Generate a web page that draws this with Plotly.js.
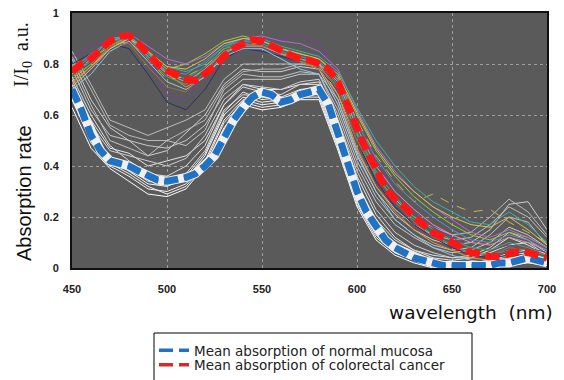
<!DOCTYPE html>
<html>
<head>
<meta charset="utf-8">
<script src="https://cdn.plot.ly/plotly-3.0.1.min.js"></script>
<style>html,body{margin:0;padding:0;background:#fff;}#chart{width:564px;height:380px;}</style>
</head>
<body>
<div id="chart"></div>
<script>
// Mean spectra (5 nm step)
const wlMean = [450,455,460,465,470,475,480,485,490,495,500,505,510,515,520,525,530,535,540,545,550,555,560,565,570,575,580,585,590,595,600,605,610,615,620,625,630,635,640,645,650,655,660,665,670,675,680,685,690,695,700];
const meanNormal = [0.70,0.62,0.52,0.46,0.42,0.41,0.40,0.38,0.36,0.345,0.34,0.345,0.355,0.37,0.40,0.44,0.51,0.58,0.63,0.67,0.69,0.68,0.65,0.66,0.68,0.69,0.70,0.64,0.52,0.41,0.30,0.22,0.16,0.11,0.08,0.06,0.04,0.03,0.02,0.01,0.01,0.01,0.01,0.01,0.01,0.02,0.02,0.03,0.04,0.03,0.02];
const meanCancer = [0.77,0.80,0.82,0.86,0.89,0.91,0.91,0.88,0.84,0.80,0.775,0.76,0.74,0.735,0.76,0.79,0.83,0.86,0.88,0.895,0.89,0.87,0.85,0.835,0.82,0.815,0.80,0.78,0.73,0.64,0.54,0.46,0.39,0.31,0.27,0.24,0.20,0.17,0.14,0.12,0.10,0.08,0.06,0.055,0.045,0.045,0.055,0.065,0.06,0.05,0.04];

// Individual spectra (10 nm step)
const wlSample = [450,460,470,480,490,500,510,520,530,540,550,560,570,580,590,600,610,620,630,640,650,660,670,680,690,700];
const normal1 = [0.66,0.50,0.40,0.36,0.31,0.30,0.33,0.42,0.58,0.66,0.64,0.65,0.68,0.68,0.48,0.26,0.13,0.06,0.03,0.01,0.00,0.00,0.01,0.02,0.03,0.01];
const normal2 = [0.72,0.55,0.43,0.39,0.34,0.33,0.37,0.46,0.62,0.68,0.67,0.66,0.69,0.70,0.53,0.31,0.17,0.09,0.05,0.03,0.02,0.02,0.03,0.05,0.06,0.03];
const normal3 = [0.63,0.47,0.39,0.34,0.29,0.28,0.31,0.40,0.55,0.64,0.62,0.63,0.66,0.66,0.46,0.24,0.11,0.05,0.02,0.00,0.00,0.00,0.00,0.01,0.02,0.01];
const normal4 = [0.78,0.62,0.52,0.50,0.48,0.47,0.50,0.56,0.68,0.74,0.74,0.74,0.76,0.76,0.60,0.40,0.26,0.17,0.12,0.08,0.06,0.07,0.10,0.16,0.13,0.08];
const normal5 = [0.85,0.72,0.58,0.55,0.52,0.55,0.58,0.62,0.74,0.80,0.80,0.80,0.80,0.79,0.66,0.46,0.32,0.23,0.17,0.13,0.11,0.12,0.17,0.24,0.20,0.12];
const normal6 = [0.70,0.58,0.47,0.45,0.40,0.42,0.44,0.50,0.64,0.72,0.70,0.70,0.72,0.73,0.57,0.36,0.21,0.12,0.07,0.04,0.03,0.04,0.07,0.12,0.09,0.05];
const normal7 = [0.82,0.66,0.55,0.50,0.44,0.46,0.53,0.60,0.72,0.78,0.77,0.77,0.79,0.78,0.64,0.44,0.30,0.21,0.15,0.11,0.09,0.10,0.15,0.25,0.26,0.15];
const normal8 = [0.68,0.52,0.42,0.38,0.33,0.32,0.35,0.44,0.60,0.67,0.65,0.66,0.69,0.69,0.50,0.28,0.14,0.07,0.04,0.02,0.01,0.01,0.02,0.04,0.04,0.02];
const normal9 = [0.75,0.60,0.48,0.42,0.37,0.36,0.40,0.48,0.64,0.71,0.69,0.68,0.72,0.72,0.55,0.33,0.19,0.11,0.07,0.05,0.04,0.04,0.06,0.09,0.10,0.05];
const normal10 = [0.80,0.64,0.50,0.47,0.44,0.50,0.48,0.54,0.70,0.76,0.75,0.75,0.77,0.76,0.62,0.42,0.28,0.19,0.13,0.09,0.07,0.08,0.13,0.20,0.18,0.09];
const normal11 = [0.67,0.49,0.41,0.37,0.32,0.29,0.32,0.41,0.57,0.65,0.63,0.64,0.67,0.67,0.47,0.25,0.12,0.06,0.03,0.01,0.01,0.01,0.01,0.02,0.03,0.01];
const normal12 = [0.74,0.56,0.46,0.44,0.42,0.40,0.43,0.52,0.66,0.72,0.71,0.70,0.73,0.74,0.58,0.38,0.23,0.14,0.09,0.06,0.04,0.05,0.08,0.14,0.11,0.06];
const normal13 = [0.69,0.51,0.42,0.40,0.36,0.34,0.36,0.45,0.61,0.69,0.66,0.67,0.70,0.71,0.52,0.30,0.16,0.08,0.04,0.02,0.01,0.02,0.03,0.06,0.07,0.03];
const normal14 = [0.83,0.70,0.56,0.52,0.50,0.50,0.54,0.58,0.71,0.77,0.78,0.78,0.80,0.80,0.68,0.50,0.36,0.27,0.20,0.16,0.13,0.14,0.20,0.27,0.22,0.13];

const cancer1 = [0.80,0.84,0.88,0.86,0.76,0.65,0.62,0.70,0.82,0.86,0.85,0.83,0.81,0.78,0.70,0.50,0.34,0.24,0.17,0.12,0.08,0.05,0.04,0.05,0.05,0.03];
const cancer2 = [0.83,0.87,0.90,0.89,0.81,0.68,0.66,0.76,0.85,0.88,0.90,0.90,0.91,0.88,0.76,0.58,0.42,0.30,0.22,0.16,0.12,0.08,0.07,0.09,0.08,0.06];
const cancer3 = [0.74,0.80,0.89,0.91,0.84,0.78,0.80,0.84,0.89,0.91,0.89,0.86,0.84,0.82,0.75,0.60,0.46,0.36,0.28,0.22,0.17,0.13,0.11,0.14,0.12,0.08];
const cancer4 = [0.76,0.81,0.88,0.90,0.84,0.77,0.74,0.79,0.86,0.89,0.88,0.85,0.82,0.80,0.72,0.52,0.37,0.26,0.19,0.13,0.09,0.06,0.05,0.07,0.06,0.04];
const cancer5 = [0.72,0.79,0.87,0.91,0.85,0.76,0.71,0.75,0.84,0.88,0.87,0.84,0.81,0.78,0.68,0.47,0.32,0.22,0.15,0.10,0.07,0.04,0.03,0.04,0.04,0.02];
const cancer6 = [0.78,0.84,0.89,0.92,0.87,0.82,0.80,0.83,0.88,0.90,0.91,0.89,0.88,0.85,0.78,0.62,0.48,0.38,0.30,0.24,0.19,0.14,0.12,0.15,0.12,0.08];
const cancer7 = [0.70,0.76,0.85,0.89,0.81,0.73,0.70,0.75,0.83,0.86,0.86,0.82,0.78,0.76,0.66,0.45,0.30,0.19,0.13,0.08,0.05,0.03,0.02,0.03,0.03,0.02];
const cancer8 = [0.76,0.82,0.87,0.89,0.82,0.74,0.75,0.79,0.86,0.88,0.88,0.84,0.82,0.80,0.74,0.58,0.44,0.34,0.26,0.29,0.25,0.22,0.23,0.18,0.14,0.10];
const cancer9 = [0.75,0.80,0.87,0.90,0.82,0.75,0.72,0.78,0.86,0.88,0.87,0.84,0.81,0.79,0.71,0.53,0.38,0.28,0.20,0.15,0.11,0.08,0.07,0.10,0.08,0.05];
const cancer10 = [0.73,0.79,0.86,0.90,0.83,0.76,0.73,0.78,0.85,0.87,0.87,0.84,0.82,0.80,0.73,0.55,0.40,0.30,0.23,0.17,0.13,0.10,0.09,0.12,0.10,0.07];
const cancer11 = [0.77,0.83,0.89,0.90,0.83,0.77,0.76,0.81,0.87,0.89,0.89,0.86,0.83,0.81,0.74,0.57,0.43,0.33,0.26,0.20,0.15,0.11,0.10,0.13,0.11,0.07];
const cancer12 = [0.79,0.83,0.87,0.88,0.79,0.71,0.69,0.77,0.85,0.88,0.87,0.85,0.82,0.79,0.70,0.50,0.36,0.26,0.18,0.12,0.09,0.06,0.05,0.08,0.07,0.05];
const cancer13 = [0.75,0.82,0.90,0.91,0.84,0.79,0.77,0.80,0.87,0.90,0.90,0.87,0.85,0.83,0.77,0.63,0.50,0.40,0.32,0.26,0.22,0.18,0.17,0.22,0.17,0.10];
const cancer14 = [0.71,0.78,0.86,0.90,0.85,0.79,0.78,0.82,0.88,0.90,0.89,0.86,0.84,0.82,0.76,0.61,0.47,0.37,0.30,0.24,0.20,0.17,0.16,0.20,0.15,0.09];

const normalSeries = [normal1,normal2,normal3,normal4,normal5,normal6,normal7,normal8,normal9,normal10,normal11,normal12,normal13,normal14];
const normalColors = ['#f2f2f2','#d9d9d9','#ffffff','#c8c8c8','#bdbdbd','#e6e6e6','#cfcfcf','#f7f7f7','#dedede','#c2c2c2','#eeeeee','#d0d0d0','#e9e9e9','#b8b8b8'];
const cancerSeries = [cancer1,cancer2,cancer3,cancer4,cancer5,cancer6,cancer7,cancer8,cancer9,cancer10,cancer11,cancer12,cancer13,cancer14];
const cancerColors = ['#2b2f6b','#7a3fa0','#9acd32','#2aa59a','#e8903a','#b06cd0','#8fc6e8','#c8b840','#4caf50','#e88fb0','#5f8fc8','#a0704a','#3fb0a0','#d8c060'];
const cancerDash = ['solid','solid','solid','solid','solid','solid','solid','dash','solid','solid','solid','solid','solid','solid'];

const blue = '#1f72c4', red = '#ff1515';
const meanDash = '14px,6px';
const traces = [];
normalSeries.forEach((s,i)=>traces.push({x:wlSample,y:s,type:'scatter',mode:'lines',line:{color:normalColors[i],width:1},showlegend:false,hoverinfo:'skip'}));
cancerSeries.forEach((s,i)=>traces.push({x:wlSample,y:s,type:'scatter',mode:'lines',line:{color:cancerColors[i],width:1,dash:cancerDash[i]},showlegend:false,hoverinfo:'skip'}));
traces.push({x:wlMean,y:meanNormal,type:'scatter',mode:'lines',line:{color:'#f0f0f0',width:9},showlegend:false,hoverinfo:'skip'});
// thin copies carry the legend entries (covered by the thick lines on the plot)
traces.push({x:wlMean,y:meanNormal,type:'scatter',mode:'lines',name:'Mean absorption of normal mucosa',legend:'legend',line:{color:blue,width:3.5,dash:meanDash}});
traces.push({x:wlMean,y:meanNormal,type:'scatter',mode:'lines',showlegend:false,hoverinfo:'skip',line:{color:blue,width:7,dash:meanDash}});
traces.push({x:wlMean,y:meanCancer,type:'scatter',mode:'lines',name:'Mean absorption of colorectal cancer',legend:'legend2',line:{color:'#d42a2a',width:3.5,dash:meanDash}});
traces.push({x:wlMean,y:meanCancer,type:'scatter',mode:'lines',showlegend:false,hoverinfo:'skip',line:{color:red,width:7,dash:meanDash}});

const tickFont = {family:'Arial, Liberation Sans, sans-serif',size:11,color:'#222',weight:'bold'};
const legFont = {family:'DejaVu Sans, sans-serif',size:13.5,color:'#222'};
const px2x = p => (p-72)/475;
const px2y = p => (268-p)/255;
const layout = {
  width:564,height:380,
  margin:{l:72,r:17,t:13,b:112,autoexpand:false},
  paper_bgcolor:'#ffffff',
  plot_bgcolor:'#5a5a5a',
  showlegend:true,
  legend:{x:px2x(154),y:px2y(350.5),xanchor:'left',yanchor:'middle',bgcolor:'rgba(0,0,0,0)',borderwidth:0,font:legFont,itemwidth:30},
  legend2:{x:px2x(154),y:px2y(365),xanchor:'left',yanchor:'middle',bgcolor:'rgba(0,0,0,0)',borderwidth:0,font:legFont,itemwidth:30},
  xaxis:{range:[450,700],tickvals:[450,500,550,600,650,700],ticktext:['450','500','550','600','650','700'],
    showgrid:true,gridcolor:'#a0a0a0',griddash:'dot',gridwidth:1,zeroline:false,
    showline:true,linecolor:'#111',linewidth:2,mirror:true,ticks:'',tickfont:tickFont,ticklabelstandoff:10},
  yaxis:{range:[0,1],tickvals:[0,0.2,0.4,0.6,0.8,1],ticktext:['0','0.2','0.4','0.6','0.8','1'],
    showgrid:true,gridcolor:'#a0a0a0',griddash:'dot',gridwidth:1,zeroline:false,
    showline:true,linecolor:'#111',linewidth:2,mirror:true,ticks:'',tickfont:tickFont,ticklabelstandoff:9},
  shapes:[
    {type:'rect',xref:'paper',yref:'paper',x0:px2x(154),x1:px2x(472),y0:px2y(333),y1:px2y(395),line:{color:'#000',width:1},fillcolor:'rgba(0,0,0,0)',layer:'below'}
  ],
  annotations:[
    {text:'wavelength  (nm)',xref:'paper',yref:'paper',x:px2x(555),y:px2y(312),xanchor:'right',yanchor:'middle',showarrow:false,
      font:{family:'DejaVu Sans, sans-serif',size:18.5,color:'#111'}},
    {text:'Absorption rate',xref:'paper',yref:'paper',x:px2x(24),y:px2y(193),xanchor:'center',yanchor:'middle',textangle:-90,showarrow:false,
      font:{family:'Liberation Sans, Arial, sans-serif',size:20,color:'#111'}},
    {text:'I/I<sub>0</sub>  a.u.',xref:'paper',yref:'paper',x:px2x(23),y:px2y(55),xanchor:'center',yanchor:'middle',textangle:-90,showarrow:false,
      font:{family:'Liberation Serif, Times New Roman, serif',size:20,color:'#111'}}
  ]
};
Plotly.newPlot('chart',traces,layout,{displayModeBar:false,staticPlot:true});
</script>
</body>
</html>
